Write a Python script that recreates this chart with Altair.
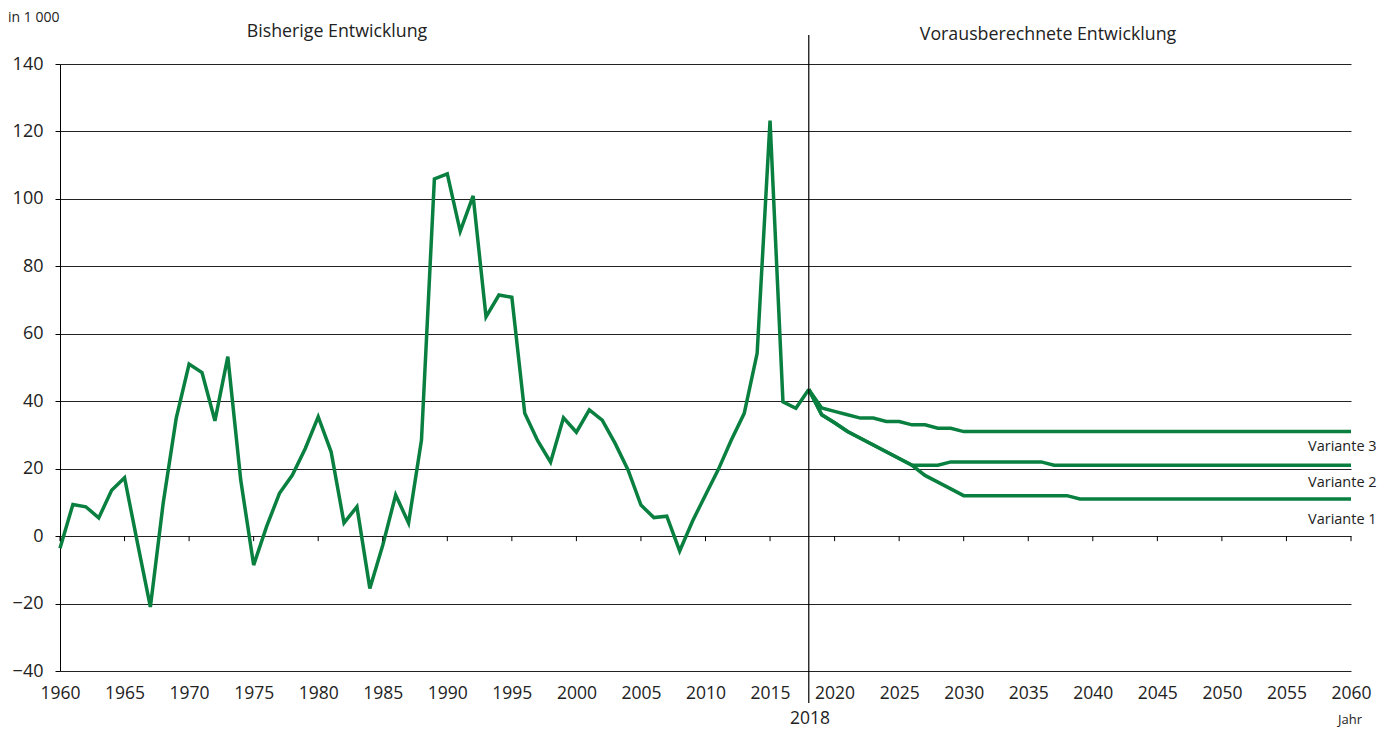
import altair as alt
import pandas as pd

# Historical development 1960-2018 (in 1 000)
hist_years = list(range(1960, 2019))
hist_values = [-3.6, 9.4, 8.7, 5.4, 13.6, 17.3, -2.0, -21.0, 10.0, 34.9,
               51.0, 48.5, 34.2, 53.2, 16.6, -8.6, 2.8, 12.7, 18.1, 26.0,
               35.4, 25.0, 3.9, 8.7, -15.5, -2.7, 12.2, 3.9, 28.5, 105.9,
               107.4, 90.4, 100.9, 65.0, 71.5, 70.8, 36.4, 28.3, 21.9, 35.1,
               30.8, 37.4, 34.4, 27.5, 19.6, 9.2, 5.5, 5.9, -4.4, 4.5,
               12.2, 19.8, 28.5, 36.4, 54.2, 123.2, 39.8, 37.9, 43.5]

# Projections 2018-2060
proj_years = list(range(2018, 2061))
var3_values = [43.5, 38, 37, 36, 35, 35, 34, 34, 33, 33, 32, 32] + [31] * 31
var2_values = [43.5, 36, 33.6, 31, 29, 27, 25, 23, 21, 21, 21, 22] + [22] * 7 + [21] * 24
var1_values = [43.5, 36, 33.6, 31, 29, 27, 25, 23, 21, 18, 16, 14] + [12] * 9 + [11] * 22

tick_years = list(range(1960, 2061, 5))
y_ticks = list(range(-40, 141, 20))
variant_labels = ["Variante 3", "Variante 2", "Variante 1"]
variant_label_y = [447, 483, 520]  # page pixel centres of the labels

GREEN = "#0a8040"
FONT = "Open Sans"

rows = []
for yr, v in zip(hist_years, hist_values):
    rows.append({"Jahr": yr, "Wert": v, "Reihe": "Bisher"})
for name, vals in [("Variante 3", var3_values), ("Variante 2", var2_values), ("Variante 1", var1_values)]:
    for yr, v in zip(proj_years, vals):
        rows.append({"Jahr": yr, "Wert": v, "Reihe": name})
df = pd.DataFrame(rows)

W, H = 1291, 607
xscale = alt.Scale(domain=[1960, 2060], nice=False, zero=False)
yscale = alt.Scale(domain=[-40, 140], nice=False, zero=False)

base = alt.Chart(df)

lines = base.mark_line(color=GREEN, strokeWidth=3.5, strokeJoin="miter", clip=False).encode(
    x=alt.X("Jahr:Q", scale=xscale,
            axis=alt.Axis(values=tick_years, format="d", title=None, domain=False, ticks=False,
                          grid=False, labelFont=FONT,
                          labelFontSize=17.5, labelColor="#222", labelPadding=13,
                          labelFlush=False)),
    y=alt.Y("Wert:Q", scale=yscale,
            axis=alt.Axis(values=y_ticks, title=None, domain=True, domainColor="#000",
                          domainWidth=1, ticks=True, tickSize=5, tickColor="#000",
                          grid=True, gridColor="#222", gridWidth=1, gridOpacity=1,
                          labelFont=FONT, labelFontSize=18, labelColor="#222",
                          labelPadding=12)),
    detail="Reihe:N",
)

tick_df = pd.DataFrame({"Jahr": tick_years})
xticks = alt.Chart(tick_df).mark_rule(color="#000", strokeWidth=1).encode(
    x=alt.X("Jahr:Q", scale=xscale),
    y=alt.datum(0),
    y2=alt.datum(-1.5),
)

vline = alt.Chart(pd.DataFrame({"Jahr": [2018]})).mark_rule(color="#000", strokeWidth=1.2, clip=False).encode(
    x=alt.X("Jahr:Q", scale=xscale),
    y=alt.value(-29),
    y2=alt.value(639),
)

def txt(text, x, y, size=17, align="center", font=FONT):
    return alt.Chart(pd.DataFrame({"t": [text]})).mark_text(
        align=align, baseline="middle", fontSize=size, font=font, color="#222"
    ).encode(text="t:N", x=alt.value(x), y=alt.value(y))

labels = [
    txt("in 1 000", -52, -46, size=14, align="left"),
    txt("Bisherige Entwicklung", 277, -32, size=17.8),
    txt("Vorausberechnete Entwicklung", 988, -29, size=17.8),
    txt("2018", 750, 655, size=17.5),
    txt("Jahr", 1290, 656, size=13),
]
for name, py in zip(variant_labels, variant_label_y):
    labels.append(txt(name, 1248, py - 64, size=14.5, align="left"))

chart = alt.layer(lines, xticks, vline, *labels).properties(
    width=W, height=H,
    autosize=alt.AutoSizeParams(type="none"),
    padding={"left": 52, "top": 56, "right": 33, "bottom": 57},
).configure_view(stroke=None)

chart.save("out.html", embed_options={"renderer": "svg", "actions": False})
